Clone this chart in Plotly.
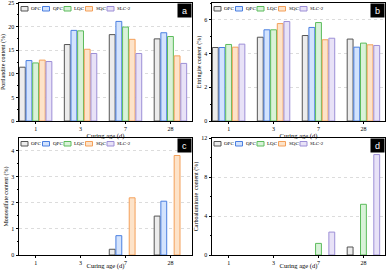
import plotly.graph_objects as go
from plotly.subplots import make_subplots

ages = ["1", "3", "7", "28"]
series = ["OPC", "QPC", "LQC", "SQC", "SLC-2"]

portlandite = {
    "OPC": [11.4, 16.2, 18.3, 17.4],
    "QPC": [12.8, 19.2, 21.1, 18.7],
    "LQC": [12.3, 19.1, 19.9, 17.9],
    "SQC": [12.9, 15.2, 17.3, 13.8],
    "SLC-2": [12.6, 14.3, 14.3, 12.2],
}
ettringite = {
    "OPC": [4.36, 4.97, 5.07, 4.86],
    "QPC": [4.36, 5.41, 5.55, 4.38],
    "LQC": [4.54, 5.41, 5.84, 4.62],
    "SQC": [4.38, 5.78, 4.82, 4.52],
    "SLC-2": [4.56, 5.90, 4.91, 4.48],
}
monosulfate = {
    "OPC": [0, 0, 0.22, 1.49],
    "QPC": [0, 0, 0.74, 2.06],
    "LQC": [0, 0, 0, 0],
    "SQC": [0, 0, 2.19, 3.81],
    "SLC-2": [0, 0, 0, 0],
}
carboaluminate = {
    "OPC": [0, 0, 0, 0.82],
    "QPC": [0, 0, 0, 0],
    "LQC": [0, 0, 1.19, 5.2],
    "SQC": [0, 0, 0, 0],
    "SLC-2": [0, 0, 2.35, 10.3],
}

panels = [
    (portlandite, "Portlandite content (%)", [0, 25], 5, "a"),
    (ettringite, "Ettringite content (%)", [0, 7], 2, "b"),
    (monosulfate, "Monosulfate content (%)", [0, 4.48], 1, "c"),
    (carboaluminate, "Carboaluminate  content (%)", [0, 12], 4, "d"),
]

line_colors = ["#555555", "#4a7fe0", "#5cbc5c", "#f4a05a", "#9d8fd6"]
fill_colors = ["#ececec", "#d3e3fd", "#d9f2d9", "#fde3c9", "#e8e2f7"]

FONT = "Liberation Serif"
W, H = 387, 270

fig = make_subplots(rows=2, cols=2)

xdom = [[19 / W, 192 / W], [212 / W, 385 / W]]
ydom = [[1 - 121 / H, 1 - 3 / H], [1 - 255 / H, 1 - 138 / H]]

for i, (data, ytitle, yrange, dtick, label) in enumerate(panels):
    r, c = i // 2 + 1, i % 2 + 1
    for j, s in enumerate(series):
        vals = data[s]
        fig.add_trace(
            go.Bar(
                x=ages, y=vals, name=s, showlegend=False,
                marker=dict(
                    color=fill_colors[j],
                    line=dict(color=line_colors[j], width=[1 if v > 0 else 0 for v in vals]),
                ),
            ),
            row=r, col=c,
        )
    ax = "" if i == 0 else str(i + 1)
    fig.layout["xaxis" + ax].update(
        domain=xdom[c - 1], type="category", range=[-0.37, 3.48],
        showline=True, linecolor="black", linewidth=1, mirror=True,
        ticks="outside", ticklen=2, tickcolor="black",
        tickfont=dict(family=FONT, size=6, color="black"),
        title=dict(text="Curing age (d)", font=dict(family=FONT, size=6.5, color="black"), standoff=1),
        automargin=False, showgrid=False,
    )
    fig.layout["yaxis" + ax].update(
        domain=ydom[r - 1], range=yrange, dtick=dtick, tick0=0,
        showline=True, linecolor="black", linewidth=1, mirror=True,
        ticks="outside", ticklen=2.5, tickcolor="black",
        minor=dict(ticks="outside", ticklen=1.5, tickcolor="black", dtick=dtick / 2, showgrid=False),
        tickfont=dict(family=FONT, size=6, color="black"),
        title=dict(text=ytitle, font=dict(family=FONT, size=6, color="black"), standoff=2),
        showgrid=True, gridcolor="#dcdcdc", griddash="dot", gridwidth=0.6,
        zeroline=False, automargin=False,
    )
    xref = ("x" + ax) + " domain"
    yref = ("y" + ax) + " domain"
    # panel label box
    fig.add_annotation(
        x=1, y=1, xref=xref, yref=yref, xanchor="right", yanchor="top",
        text=label, showarrow=False, bgcolor="black", width=11, height=11,
        font=dict(family="Liberation Sans", size=9, color="white"), borderpad=1,
    )
    # legend (manual, per panel)
    dom_w = 173.0
    dom_h = (ydom[r - 1][1] - ydom[r - 1][0]) * H
    for j, s in enumerate(series):
        x0 = (2 + j * 21.5) / dom_w
        fig.add_shape(
            type="rect", xref=xref, yref=yref,
            x0=x0, x1=x0 + 7 / dom_w, y0=1 - 8 / dom_h, y1=1 - 3.5 / dom_h,
            fillcolor=fill_colors[j], line=dict(color=line_colors[j], width=1),
        )
        fig.add_annotation(
            x=x0 + 8 / dom_w, y=1 - 5.75 / dom_h, xref=xref, yref=yref,
            xanchor="left", yanchor="middle", text=s, showarrow=False,
            font=dict(family=FONT, size=5, color="black"),
        )

fig.update_layout(
    width=W, height=H, margin=dict(l=0, r=0, t=0, b=0),
    paper_bgcolor="white", plot_bgcolor="white",
    barmode="group", bargap=0.26, bargroupgap=0.12,
    font=dict(family=FONT, color="black"),
)

fig.write_html(
    "out.html",
    config={"displayModeBar": False},
    post_script="document.body.style.margin='0px';document.body.style.overflow='hidden';",
)
